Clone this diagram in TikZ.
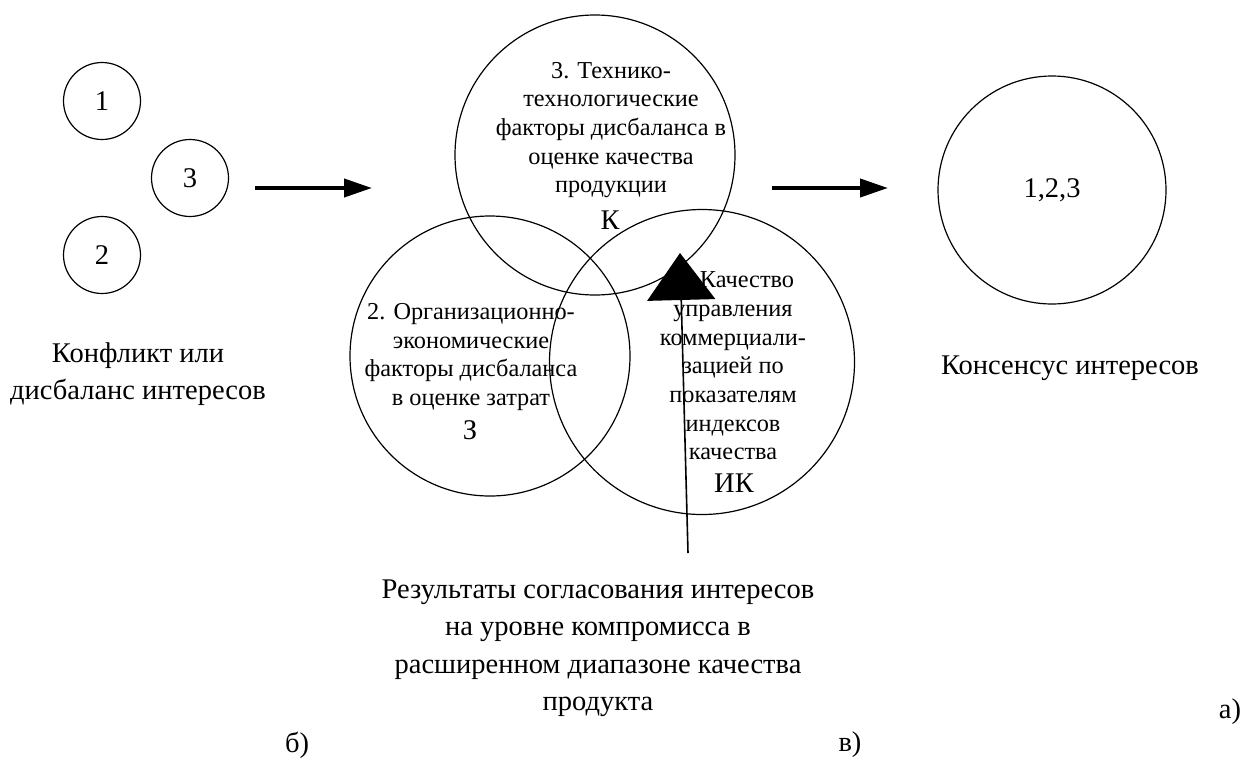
\documentclass[tikz,border=0pt]{standalone}
\usepackage{fontspec}
\setmainfont{Liberation Serif}
\newfontfamily\tnr{Liberation Serif}
\usetikzlibrary{arrows.meta}
\tikzset{
  circ/.style={draw, circle, line width=1.2pt, inner sep=0pt},
  small/.style={font=\tnr\fontsize{24.3}{28.7}\selectfont, align=center, inner sep=0pt},
  big/.style={font=\tnr\fontsize{28.5}{37.5}\selectfont, align=center, inner sep=0pt},
  bigarrow/.style={line width=4pt, -{Triangle[length=28pt,width=18pt]}},
  uparrow/.style={line width=1.6pt, -{Triangle[length=47pt,width=68pt]}}
}
\begin{document}
\begin{tikzpicture}[x=1pt,y=-1pt]
\useasboundingbox (0,0) rectangle (1253,769);
% left group
\node[circ, minimum size=77pt, big] (c1) at (102,101) {1};
\node[circ, minimum size=77pt, big] (c3) at (190,178) {3};
\node[circ, minimum size=77pt, big] (c2) at (102,255) {2};
\node[big] (conf) at (138,374) {Конфликт или\\дисбаланс интересов};
% arrow 1
\coordinate (a1s) at (255,188);
\coordinate (a1e) at (372,188);
\draw[bigarrow] (a1s) -- (a1e);
% Venn circles
\node[circ, minimum size=280pt] (K) at (595,155) {};
\node[circ, minimum size=280pt] (Z) at (490,356) {};
\node[circ, minimum size=305pt] (IK) at (702,362) {};
\node[small] (tK) at (611,130) {3. Технико-\\технологические\\факторы дисбаланса в\\оценке качества\\продукции};
\node[big] (lK) at (610,220) {К};
\node[small] (tZ) at (471,357) {2. Организационно-\\экономические\\факторы дисбаланса\\в оценке затрат};
\node[big] (lZ) at (470,430) {З};
\node[small] (tIK) at (733,366) {\hspace*{28pt}Качество\\управления\\коммерциали-\\зацией по\\показателям\\индексов\\качества};
\node[big] (lIK) at (734,483) {ИК};
% vertical arrow
\coordinate (vs) at (688,553);
\coordinate (ve) at (680,253);
\draw[uparrow] (vs) -- (ve);
% arrow 2
\coordinate (a2s) at (772,188);
\coordinate (a2e) at (888,188);
\draw[bigarrow] (a2s) -- (a2e);
% right circle
\node[circ, minimum size=228pt, big] (c123) at (1052,190) {1,2,3};
\node[big] (cons) at (1070,368) {Консенсус интересов};
% bottom
\node[big] (res) at (598,648) {Результаты согласования интересов\\на уровне компромисса в\\расширенном диапазоне качества\\продукта};
\node[big] (la) at (1230,712) {а)};
\node[big] (lb) at (297,745) {б)};
\node[big] (lv) at (850,745) {в)};
\end{tikzpicture}
\end{document}
